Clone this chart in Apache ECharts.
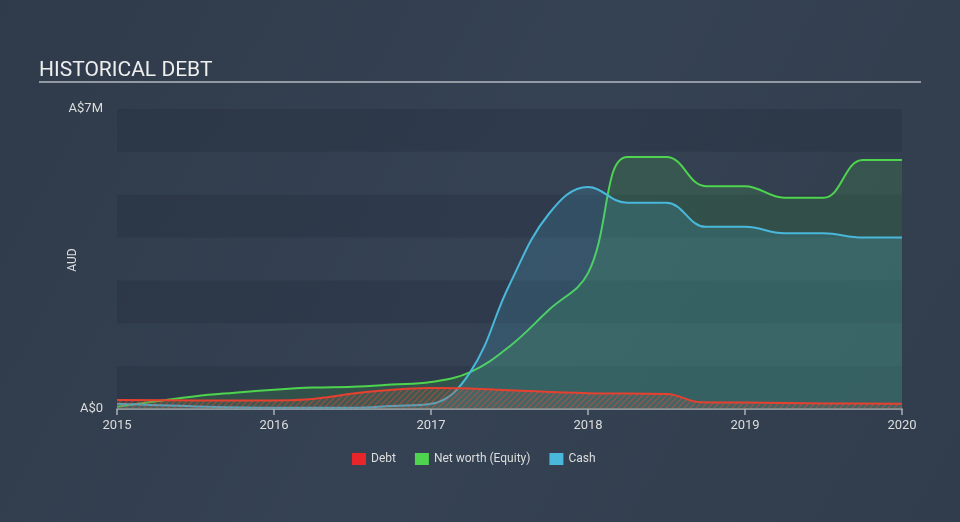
<!DOCTYPE html>
<html>
<head>
<meta charset="utf-8">
<script src="https://cdn.jsdelivr.net/npm/echarts@6/dist/echarts.min.js"></script>
<style>
html,body{margin:0;padding:0;background:#333f4f;}
#chart{width:960px;height:522px;}
</style>
</head>
<body>
<div id="chart"></div>
<script>
// Data (year as decimal, value in A$ millions)
const yearTicks = [2015, 2016, 2017, 2018, 2019, 2020];
const debtData = [[2015.0,0.21],[2015.5,0.2],[2016.0,0.2],[2016.2,0.22],[2016.6,0.4],[2017.0,0.49],[2017.25,0.48],[2017.5,0.44],[2018.0,0.37],[2018.5,0.35],[2018.72,0.16],[2019.0,0.15],[2019.5,0.13],[2020.0,0.12]];
const equityData = [[2015.0,0.05],[2015.25,0.18],[2015.5,0.3],[2015.75,0.38],[2016.0,0.45],[2016.25,0.5],[2016.5,0.52],[2016.75,0.57],[2017.0,0.63],[2017.25,0.86],[2017.5,1.46],[2017.75,2.31],[2018.0,3.17],[2018.25,5.88],[2018.5,5.88],[2018.75,5.2],[2019.0,5.2],[2019.25,4.93],[2019.5,4.93],[2019.75,5.81],[2020.0,5.81]];
const cashData = [[2015.0,0.12],[2015.5,0.06],[2016.0,0.03],[2016.5,0.03],[2016.75,0.07],[2017.0,0.12],[2017.25,0.86],[2017.5,2.9],[2017.75,4.55],[2018.0,5.18],[2018.25,4.81],[2018.5,4.81],[2018.75,4.25],[2019.0,4.25],[2019.25,4.1],[2019.5,4.1],[2019.75,4.0],[2020.0,4.0]];
const seriesNames = ['Debt', 'Net worth (Equity)', 'Cash'];

function hatch() {
  const c = document.createElement('canvas');
  c.width = 6; c.height = 6;
  const g = c.getContext('2d');
  g.fillStyle = 'rgba(120,110,100,0.35)';
  g.fillRect(0,0,6,6);
  g.strokeStyle = 'rgba(230,80,60,0.75)';
  g.lineWidth = 1.2;
  g.beginPath();
  g.moveTo(-1,7); g.lineTo(7,-1);
  g.moveTo(-1,1); g.lineTo(1,-1);
  g.moveTo(5,7); g.lineTo(7,5);
  g.stroke();
  return c;
}

const chart = echarts.init(document.getElementById('chart'));
chart.setOption({
  backgroundColor: {
    type: 'linear', x: 0, y: 0, x2: 1, y2: 1,
    colorStops: [{offset: 0, color: '#2f3b4a'}, {offset: 0.5, color: '#354253'}, {offset: 1, color: '#313d4c'}]
  },
  animation: false,
  title: {
    text: 'HISTORICAL DEBT', left: 34, top: 55,
    textStyle: {color: '#eeeeee', fontSize: 21, fontWeight: 'normal', fontFamily: 'Roboto'}
  },
  graphic: [{
    type: 'line', shape: {x1: 39, y1: 82, x2: 921, y2: 82},
    style: {stroke: '#b4b9c0', lineWidth: 1.5}
  }, {
    type: 'text', x: 73, y: 260, rotation: Math.PI / 2,
    style: {text: 'AUD', fill: '#dddddd', font: '12px Roboto', align: 'center', verticalAlign: 'middle'}
  }],
  legend: {
    data: seriesNames, bottom: 52, left: 347,
    itemWidth: 14, itemHeight: 12, itemGap: 19, icon: 'rect',
    textStyle: {color: '#dddddd', fontSize: 12, fontFamily: 'Roboto'}
  },
  grid: {left: 117, right: 58, top: 109, bottom: 113},
  xAxis: {
    type: 'value', min: 2015, max: 2020, interval: 1,
    axisLine: {lineStyle: {color: '#aab0b8', width: 1.5}},
    axisTick: {show: true, length: 6, lineStyle: {color: '#aab0b8', width: 1.5}},
    axisLabel: {color: '#dddddd', fontSize: 13, fontFamily: 'Roboto', margin: 10, formatter: v => String(v)},
    splitLine: {show: false}
  },
  yAxis: {
    type: 'value', min: 0, max: 7, interval: 1,
    axisLine: {show: false}, axisTick: {show: false},
    axisLabel: {color: '#dddddd', fontSize: 13, fontFamily: 'Roboto', margin: 14,
      formatter: v => v === 0 ? 'A$0' : (v === 7 ? 'A$7M' : '')},
    splitLine: {show: false},
    splitArea: {show: true, areaStyle: {color: ['rgba(20,30,45,0.18)', 'rgba(255,255,255,0.0)']}}
  },
  series: [
    {
      name: 'Net worth (Equity)', type: 'line', data: equityData, z: 2,
      smooth: 0.4, showSymbol: false,
      lineStyle: {color: '#4ed44e', width: 2},
      itemStyle: {color: '#4ed44e'},
      areaStyle: {color: 'rgba(78,212,78,0.22)'}
    },
    {
      name: 'Cash', type: 'line', data: cashData, z: 3,
      smooth: 0.4, showSymbol: false,
      lineStyle: {color: '#49b8db', width: 2},
      itemStyle: {color: '#49b8db'},
      areaStyle: {color: 'rgba(73,184,219,0.25)'}
    },
    {
      name: 'Debt', type: 'line', data: debtData, z: 4,
      smooth: 0.4, showSymbol: false,
      lineStyle: {color: '#e8402f', width: 2},
      itemStyle: {color: '#e8262a'},
      areaStyle: {color: {image: hatch(), repeat: 'repeat'}}
    }
  ]
});
</script>
</body>
</html>
